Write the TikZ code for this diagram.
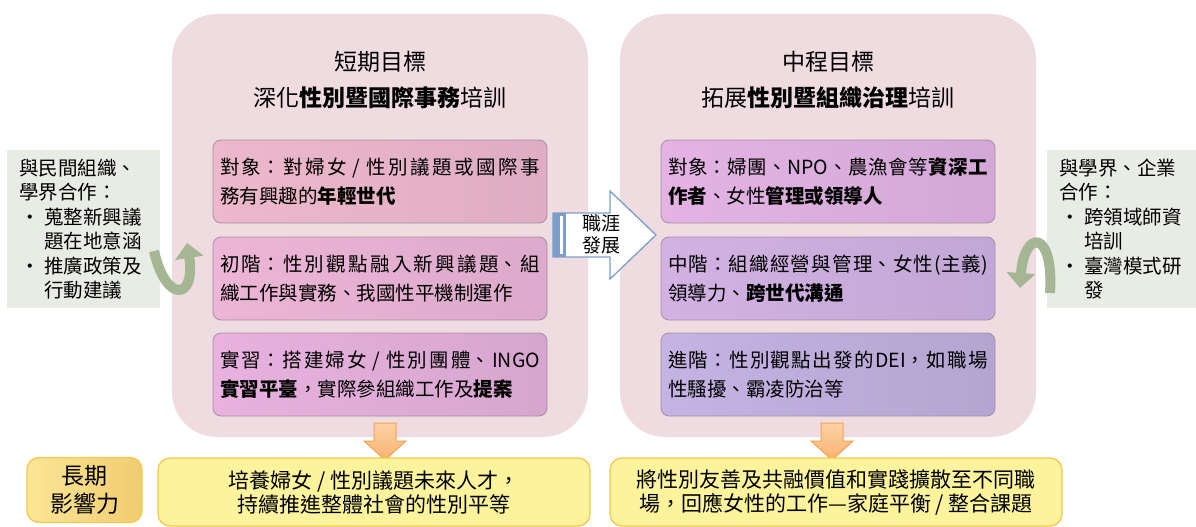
\documentclass[tikz,border=0pt]{standalone}
\usepackage{fontspec}
\setmainfont{Noto Sans CJK TC}
\usetikzlibrary{arrows.meta}
\XeTeXlinebreaklocale "zh"
\XeTeXlinebreakskip=0pt plus 3pt
\definecolor{panelc}{HTML}{EFDCE1}
\definecolor{iborder}{HTML}{A58E9F}
\definecolor{laA}{HTML}{EDB8CB}\definecolor{laB}{HTML}{DFADC3}
\definecolor{lbA}{HTML}{EDB5D6}\definecolor{lbB}{HTML}{DCAACC}
\definecolor{lcA}{HTML}{E8B1DF}\definecolor{lcB}{HTML}{D6A6CF}
\definecolor{raA}{HTML}{E4B3E4}\definecolor{raB}{HTML}{D2A8D6}
\definecolor{rbA}{HTML}{D3B2E3}\definecolor{rbB}{HTML}{C1A7D6}
\definecolor{rcA}{HTML}{C5B3E3}\definecolor{rcB}{HTML}{B3A5D2}
\definecolor{sidec}{HTML}{E9ECE4}
\definecolor{yfill}{HTML}{FCF39C}
\definecolor{yline}{HTML}{F1C94E}
\definecolor{gA}{HTML}{FCE696}\definecolor{gB}{HTML}{F0CC70}
\definecolor{oA}{HTML}{FDD2A4}\definecolor{oB}{HTML}{F9B272}
\definecolor{oline}{HTML}{F6A350}
\definecolor{bluec}{HTML}{7C9EC8}
\definecolor{greenc}{HTML}{A4B694}
\newcommand\bul{\makebox[25pt][l]{\hspace{1pt}•}}
\newcommand\ind{\hspace*{25pt}}
\tikzset{
  panel/.style={fill=panelc, draw=none, rounded corners=45pt, minimum width=416pt, minimum height=423pt},
  ibox/.style={draw=iborder, line width=0.8pt, rounded corners=8pt, minimum width=334pt,
    minimum height=83pt, text width=320pt, inner xsep=7pt, align=justify,
    font=\fontsize{19.5}{28.5}\selectfont},
  ttl/.style={font=\fontsize{23}{28}\selectfont},
  sidebox/.style={fill=sidec, draw=none, minimum height=158pt},
  sidetext/.style={anchor=west, align=left, inner sep=0pt, font=\fontsize{19.5}{24.5}\selectfont},
  ybox/.style={fill=yfill, draw=yline, line width=1.3pt, rounded corners=12pt, minimum height=68pt,
    align=center, font=\fontsize{21}{24}\selectfont},
  obox/.style={draw=oline, line width=1pt, top color=oA, bottom color=oB},
  garrow/.style={draw=greenc, line width=10pt, -{Triangle[width=28pt,length=15pt]}},
}
\begin{document}
\begin{tikzpicture}[x=1pt,y=-1pt]
\useasboundingbox (0,0) rectangle (1196,527);
\fill[white] (0,0) rectangle (1196,527);
% panels
\node[panel] (P1) at (380,225.5) {};
\node[panel] (P2) at (828,225.5) {};
% titles
\node[ttl] (T1a) at (380,62) {短期目標};
\node[ttl] (T1b) at (380,98) {深化\textbf{性別暨國際事務}培訓};
\node[ttl] (T2a) at (828,62) {中程目標};
\node[ttl] (T2b) at (828,98) {拓展\textbf{性別暨組織治理}培訓};
% left inner boxes
\node[ibox, left color=laA, right color=laB] (L1) at (380,181.5)
  {對象：對婦女 / 性別議題或國際事\break 務有興趣的\textbf{年輕世代}};
\node[ibox, left color=lbA, right color=lbB] (L2) at (380,278.5)
  {初階：性別觀點融入新興議題、組\break 織工作與實務、我國性平機制運作};
\node[ibox, left color=lcA, right color=lcB] (L3) at (380,374.5)
  {實習：搭建婦女 / 性別團體、INGO\break \textbf{實習平臺}，實際參組織工作及\textbf{提案}};
% right inner boxes
\node[ibox, left color=raA, right color=raB] (R1) at (828,181.5)
  {對象：婦團、NPO、農漁會等\textbf{資深工}\break \textbf{作者}、女性\textbf{管理或領導人}};
\node[ibox, left color=rbA, right color=rbB] (R2) at (828,278.5)
  {中階：組織經營與管理、女性(主義)\break 領導力、\textbf{跨世代溝通}};
\node[ibox, left color=rcA, right color=rcB] (R3) at (828,374.5)
  {進階：性別觀點出發的DEI，如職場\break 性騷擾、霸凌防治等};
% middle arrow
\draw[bluec, line width=1.3pt, fill=white, line join=miter]
  (553,213) -- (610,213) -- (610,191) -- (656,235) -- (610,279) -- (610,257) -- (553,257) -- cycle;
\fill[bluec] (553,213) rectangle (566,257);
\fill[white] (560,216) rectangle (563,254);
\node[align=center, font=\fontsize{19}{22}\selectfont] (M) at (601,234) {職涯\\發展};
% side boxes
\node[sidebox, minimum width=153pt] (SL) at (83.5,229) {};
\node[sidetext] (SLt) at (19,229) {與民間組織、\\學界合作：\\\bul 蒐整新興議\\\ind 題在地意涵\\\bul 推廣政策及\\\ind 行動建議};
\node[sidebox, minimum width=149pt] (SR) at (1121.5,229) {};
\node[sidetext] (SRt) at (1059,229) {與學界、企業\\合作：\\\bul 跨領域師資\\\ind 培訓\\\bul 臺灣模式研\\\ind 發};
% curved arrows
\draw[garrow] (154,251) .. controls (166,304) and (196,300) .. (187,243);
\draw[garrow] (1050,293) .. controls (1054,228) and (1024,230) .. (1020,288);
% orange arrows
\draw[obox, line join=miter] (374,423) -- (396,423) -- (396,441) -- (406,441) -- (385,460)
  -- (364,441) -- (374,441) -- cycle;
\draw[obox, line join=miter] (821,423) -- (843,423) -- (843,441) -- (853,441) -- (832,460)
  -- (811,441) -- (821,441) -- cycle;
% bottom boxes
\node[draw=yline, line width=1.3pt, rounded corners=12pt, left color=gA, right color=gB,
  minimum width=115pt, minimum height=65pt, align=center, font=\fontsize{23}{28}\selectfont]
  (B0) at (84.5,490) {長期\\影響力};
\node[ybox, minimum width=432pt] (B1) at (374,492) {培養婦女 / 性別議題未來人才，\\持續推進整體社會的性別平等};
\node[ybox, minimum width=452pt] (B2) at (836,492) {將性別友善及共融價值和實踐擴散至不同職\\場，回應女性的工作—家庭平衡 / 整合課題};
\end{tikzpicture}
\end{document}
